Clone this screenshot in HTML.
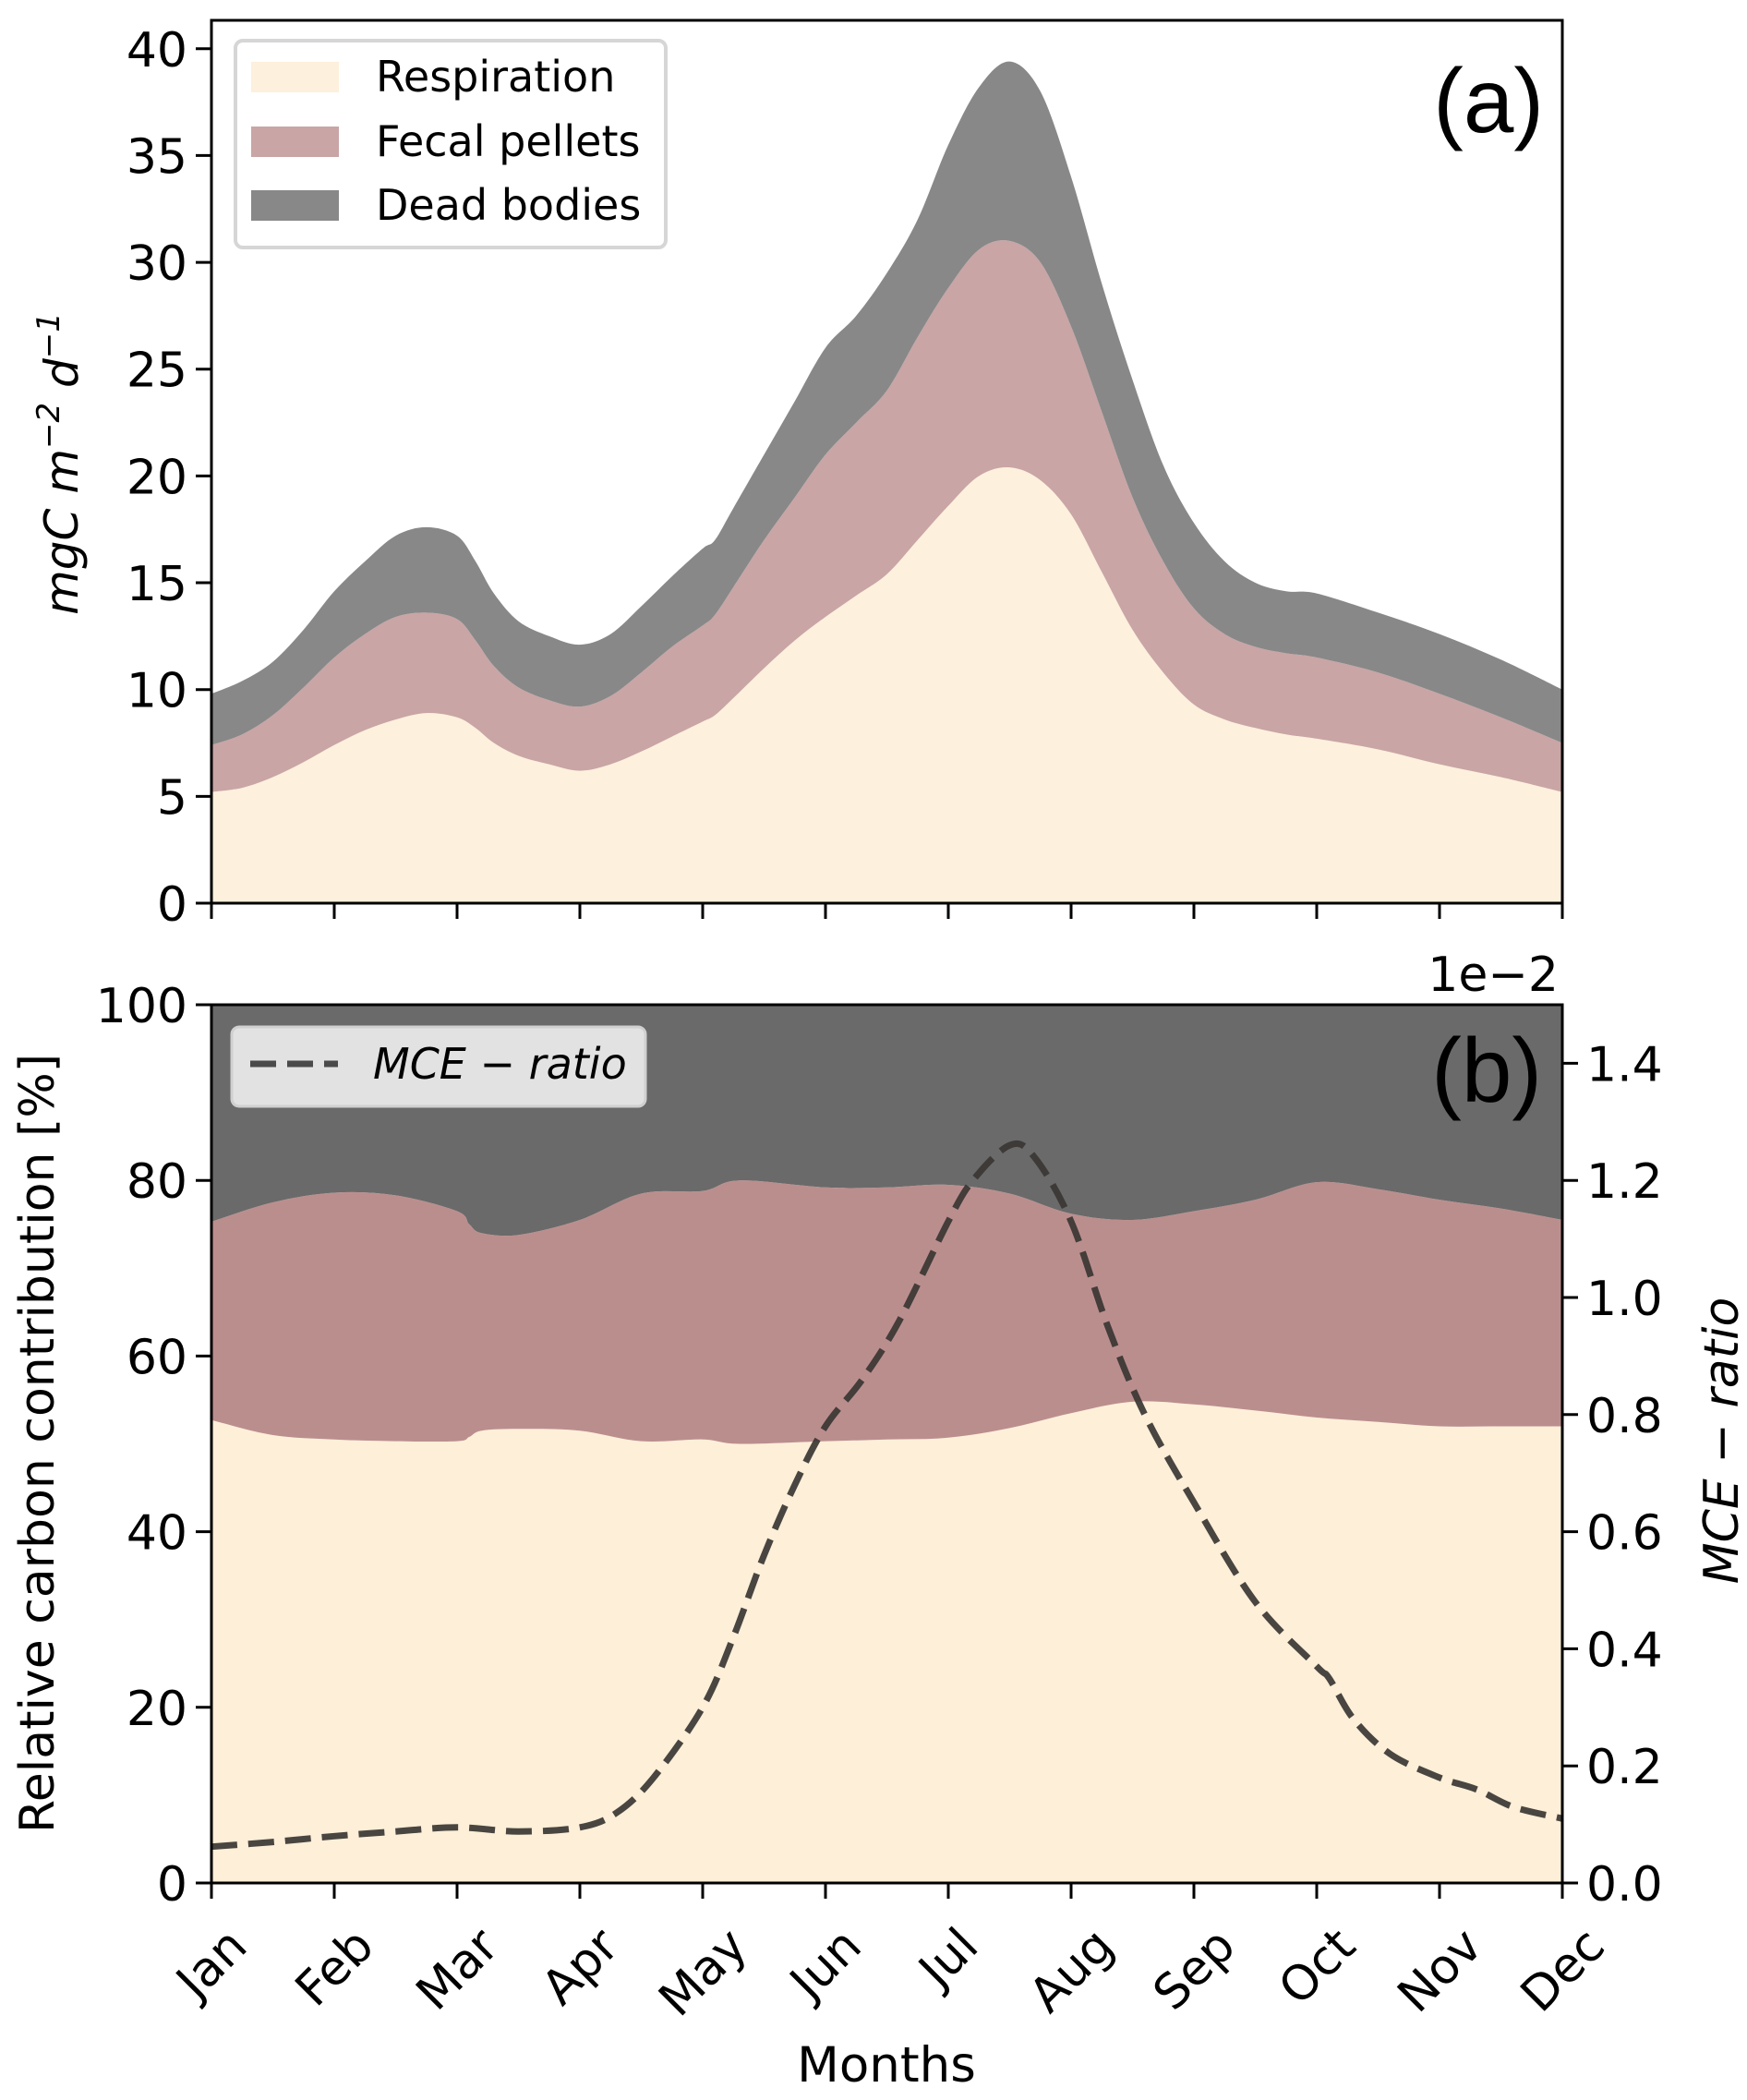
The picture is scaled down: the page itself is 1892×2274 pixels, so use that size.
<!DOCTYPE html>
<html><head><meta charset="utf-8">
<style>
html,body{margin:0;padding:0;background:#fff;}
svg{display:block;font-family:"DejaVu Sans","Liberation Sans",sans-serif;}
</style></head>
<body>
<svg id="chart" width="1892" height="2274" viewBox="0 0 1892 2274" xmlns="http://www.w3.org/2000/svg">
  <g id="top-panel"></g>
  <g id="bot-panel"></g>
</svg>
<script>
// ---- data (months since Jan, 0..11) ----
const monthLabels = ["Jan","Feb","Mar","Apr","May","Jun","Jul","Aug","Sep","Oct","Nov","Dec"];
const topTicks = [0,5,10,15,20,25,30,35,40];
const botTicks = [0,20,40,60,80,100];
const rightTicks = ["0.0","0.2","0.4","0.6","0.8","1.0","1.2","1.4"];

const aX = [0,0.25,0.5,0.75,1,1.25,1.5,1.75,2.0,2.15,2.3,2.5,2.75,3.0,3.25,3.5,3.75,4.0,4.1,4.25,4.5,4.75,5.0,5.25,5.5,5.75,6.0,6.25,6.5,6.75,7.0,7.25,7.5,7.75,8.0,8.25,8.5,8.75,9.0,9.5,10,10.5,11];
const respA = [5.2,5.4,5.9,6.6,7.4,8.1,8.6,8.9,8.7,8.2,7.5,6.9,6.5,6.2,6.5,7.1,7.8,8.5,8.8,9.6,11.0,12.3,13.4,14.4,15.4,17.0,18.6,20.0,20.4,19.8,18.2,15.5,12.8,10.8,9.3,8.6,8.2,7.9,7.7,7.2,6.5,5.9,5.2];
const fecalTopA = [7.4,7.9,8.8,10.1,11.5,12.6,13.4,13.6,13.3,12.3,11.1,10.1,9.5,9.2,9.7,10.8,12.0,13.0,13.5,14.8,17.0,19.0,21.0,22.5,24.0,26.5,28.8,30.6,31.0,30.0,27.0,23.0,19.0,16.0,13.8,12.6,12.0,11.7,11.5,10.8,9.8,8.7,7.5];
const totalA = [9.8,10.4,11.3,12.8,14.6,16.0,17.2,17.6,17.2,16.0,14.5,13.2,12.5,12.1,12.6,13.9,15.3,16.6,17.0,18.5,21.0,23.5,26.0,27.5,29.5,32.0,35.5,38.2,39.4,38.0,34.0,29.0,24.5,20.5,17.8,16.0,15.0,14.6,14.5,13.6,12.6,11.4,10.0];

const bX = [0,0.5,1,1.5,2,2.1,2.2,2.5,3,3.5,4,4.3,5,5.5,6,6.5,7,7.5,8,8.5,9,9.5,10,10.5,11];
const respPct = [52.7,51,50.5,50.3,50.3,50.8,51.5,51.7,51.5,50.3,50.5,50,50.3,50.5,50.7,51.8,53.5,54.8,54.5,53.8,53,52.5,52,52,52];
const fecalTopPct = [75.3,77.5,78.6,78.3,76.5,75.0,74.0,73.8,75.5,78.5,78.8,80,79.2,79.2,79.5,78.5,76.2,75.5,76.5,77.8,79.8,79,77.8,76.8,75.5];

const mceX = [0,0.5,1,1.5,2,2.5,3,3.3,3.6,4,4.25,4.5,4.75,5.0,5.3,5.6,6.0,6.2,6.5,6.7,7.0,7.3,7.6,8.0,8.5,9.0,9.1,9.3,9.6,10,10.3,10.6,11];
const mceVals = [0.062,0.07,0.08,0.088,0.095,0.088,0.095,0.12,0.18,0.30,0.42,0.56,0.68,0.78,0.86,0.96,1.13,1.20,1.26,1.24,1.13,0.95,0.80,0.65,0.48,0.37,0.35,0.28,0.22,0.18,0.16,0.13,0.11];

// ---- layout ----
const L=229, R=1692;
const A={top:22,bottom:978,min:0,max:41.33};
const B={top:1088,bottom:2039,min:0,max:100};
const RMAX=1.5;
const NS="http://www.w3.org/2000/svg";
function xs(m){return L+(R-L)*m/11;}
function ya(v){return A.bottom-(A.bottom-A.top)*(v-A.min)/(A.max-A.min);}
function yb(v){return B.bottom-(B.bottom-B.top)*v/100;}
function yr(v){return B.bottom-(B.bottom-B.top)*v/RMAX;}
function mk(tag,attrs,parent,txt){const e=document.createElementNS(NS,tag);for(const k in attrs)e.setAttribute(k,attrs[k]);if(txt!==undefined)e.textContent=txt;parent.appendChild(e);return e;}
// Catmull-Rom smooth segment string (without initial M)
function smooth(pts){let d="";for(let i=0;i<pts.length-1;i++){const p0=pts[Math.max(i-1,0)],p1=pts[i],p2=pts[i+1],p3=pts[Math.min(i+2,pts.length-1)];
  const c1x=p1[0]+(p2[0]-p0[0])/6,c1y=p1[1]+(p2[1]-p0[1])/6,c2x=p2[0]-(p3[0]-p1[0])/6,c2y=p2[1]-(p3[1]-p1[1])/6;
  d+="C"+c1x.toFixed(1)+","+c1y.toFixed(1)+" "+c2x.toFixed(1)+","+c2y.toFixed(1)+" "+p2[0].toFixed(1)+","+p2[1].toFixed(1);}return d;}
function band(xv,lo,hi,yf){const up=xv.map((x,i)=>[xs(x),yf(hi[i])]);const dn=xv.map((x,i)=>[xs(x),yf(lo[i])]).reverse();
  return "M"+up[0][0]+","+up[0][1]+smooth(up)+"L"+dn[0][0]+","+dn[0][1]+smooth(dn)+"Z";}
const zerosA=aX.map(()=>0), zerosB=bX.map(()=>0), fullB=bX.map(()=>100);

// ---- top panel ----
const gt=document.getElementById('top-panel');
let p;
p=mk('path',{d:band(aX,zerosA,respA,ya),fill:'#fdf0dc'},gt);

p=mk('path',{d:band(aX,respA,fecalTopA,ya),fill:'#c9a5a5'},gt);

p=mk('path',{d:band(aX,fecalTopA,totalA,ya),fill:'#888888'},gt);

p=mk('rect',{x:L,y:A.top,width:R-L,height:A.bottom-A.top,fill:'none',stroke:'#000','stroke-width':3},gt);

topTicks.forEach(v=>{const y=ya(v);
  mk('line',{x1:L-17,x2:L,y1:y,y2:y,stroke:'#000','stroke-width':3},gt);
  const t=mk('text',{x:L-26,y:y+19,'text-anchor':'end','font-size':52},gt,String(v));
  });
monthLabels.forEach((m,i)=>{mk('line',{x1:xs(i),x2:xs(i),y1:A.bottom,y2:A.bottom+17,stroke:'#000','stroke-width':3},gt);});
// legend a
p=mk('rect',{x:255,y:44,width:466,height:224,rx:8,fill:'#fff',stroke:'#d6d6d6','stroke-width':4},gt);

[["Respiration","#fdf0dc",67],["Fecal pellets","#c9a5a5",137],["Dead bodies","#888888",206]].forEach(r=>{
  mk('rect',{x:272,y:r[2],width:95,height:33,fill:r[1]},gt);
  const t=mk('text',{x:407,y:r[2]+32,'font-size':46},gt,r[0]);
  });
p=mk('text',{x:1672,y:143,'text-anchor':'end','font-size':98,'font-family':'Liberation Sans, sans-serif'},gt,'(a)');

p=mk('text',{x:0,y:0,'text-anchor':'middle','font-size':50,'font-style':'italic',transform:'translate(84,502) rotate(-90)'},gt);

p.innerHTML='mgC m<tspan dy="-20" font-size="34">−2</tspan><tspan dy="20"> d</tspan><tspan dy="-20" font-size="34">−1</tspan>';

// ---- bottom panel ----
const gb=document.getElementById('bot-panel');
p=mk('path',{d:band(bX,zerosB,respPct,yb),fill:'#fdefd8'},gb);

p=mk('path',{d:band(bX,respPct,fecalTopPct,yb),fill:'#bb8e8e'},gb);

p=mk('path',{d:band(bX,fecalTopPct,fullB,yb),fill:'#6a6a6a'},gb);

const mpts=mceX.map((m,i)=>[xs(m),yr(mceVals[i])]);
p=mk('path',{d:"M"+mpts[0][0]+","+mpts[0][1]+smooth(mpts),fill:'none',stroke:'#3a3633','stroke-width':7,'stroke-dasharray':'28,12','stroke-opacity':0.92},gb);

p=mk('rect',{x:L,y:B.top,width:R-L,height:B.bottom-B.top,fill:'none',stroke:'#000','stroke-width':3},gb);

botTicks.forEach(v=>{const y=yb(v);
  mk('line',{x1:L-17,x2:L,y1:y,y2:y,stroke:'#000','stroke-width':3},gb);
  const t=mk('text',{x:L-26,y:y+19,'text-anchor':'end','font-size':52},gb,String(v));
  });
rightTicks.forEach(s=>{const y=yr(parseFloat(s));
  mk('line',{x1:R,x2:R+17,y1:y,y2:y,stroke:'#000','stroke-width':3},gb);
  const t=mk('text',{x:R+26,y:y+19,'font-size':52},gb,s);
  });
monthLabels.forEach((m,i)=>{const x=xs(i);
  mk('line',{x1:x,x2:x,y1:B.bottom,y2:B.bottom+17,stroke:'#000','stroke-width':3},gb);
  const t=mk('text',{x:0,y:0,'text-anchor':'middle','font-size':52},gb,m);
  
  let w=m.length*31; try{w=t.getComputedTextLength();}catch(e){}
  const h=(w+38)*0.7071;
  t.setAttribute('transform','translate('+x+','+(2084+h/2)+') rotate(-45) translate(0,18)');});
p=mk('rect',{x:251,y:1112,width:448,height:86,rx:8,fill:'#e2e2e2',stroke:'#d0d0d0','stroke-width':3},gb);

mk('line',{x1:271,x2:366,y1:1152,y2:1152,stroke:'#4a4a4a','stroke-width':7,'stroke-dasharray':'28,12'},gb);
p=mk('text',{x:404,y:1168,'font-size':46,'font-style':'italic'},gb,'MCE − ratio');

p=mk('text',{x:1670,y:1193,'text-anchor':'end','font-size':98,'font-family':'Liberation Sans, sans-serif'},gb,'(b)');

p=mk('text',{x:1688,y:1073,'text-anchor':'end','font-size':52},gb,'1e−2');

p=mk('text',{x:0,y:0,'text-anchor':'middle','font-size':52,transform:'translate(58,1563) rotate(-90)'},gb,'Relative carbon contribution [%]');

p=mk('text',{x:0,y:0,'text-anchor':'middle','font-size':52,'font-style':'italic',transform:'translate(1882,1560) rotate(-90)'},gb,'MCE − ratio');

p=mk('text',{x:960,y:2254,'text-anchor':'middle','font-size':53},gb,'Months');

</script>
</body></html>
